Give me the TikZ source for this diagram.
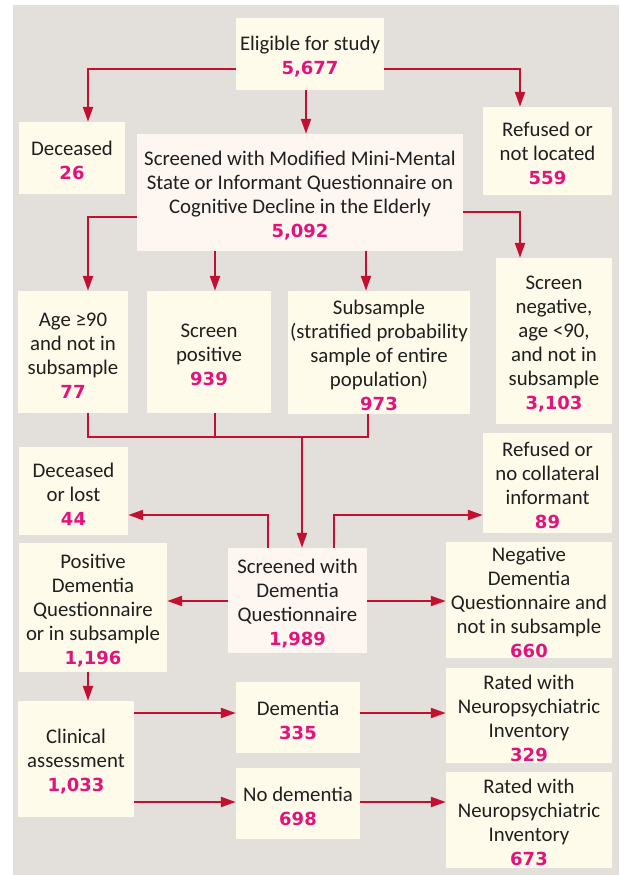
\documentclass[tikz,border=0pt]{standalone}
\usepackage{fontspec}
\setmainfont{Carlito}
\newfontfamily\numfont{DejaVu Sans}
\usetikzlibrary{arrows.meta}
\definecolor{linecol}{RGB}{193,16,48}
\definecolor{numcol}{RGB}{225,20,125}
\definecolor{cream}{RGB}{254,251,234}
\definecolor{pinkish}{RGB}{253,246,241}
\definecolor{bggray}{RGB}{227,223,218}
\newcommand\nm[1]{{\numfont\bfseries\fontsize{18}{24}\selectfont\color{numcol}#1}}
\newcommand\tp{\rule{0pt}{20pt}}
\tikzset{
  box/.style={fill=cream, draw=none, align=center, inner sep=0pt,
    font=\fontsize{20.8}{24}\selectfont, text=black!88},
  pbox/.style={box, fill=pinkish},
  arr/.style={draw=linecol, line width=2.2pt, -{Triangle[length=15pt,width=10pt]}},
  ln/.style={draw=linecol, line width=2.2pt}
}
\begin{document}
\begin{tikzpicture}[x=1pt,y=-1pt]
\useasboundingbox (0,0) rectangle (619,875);
\fill[bggray] (13,5) rectangle (619,875);

\node[box, minimum width=148, minimum height=72] (elig) at (310,54) {\tp Eligible for study\\\nm{5,677}};
\node[box, minimum width=106, minimum height=72] (dec1) at (72,158) {\tp Deceased\\\nm{26}};
\node[box, minimum width=129, minimum height=88] (ref1) at (547.5,151) {\tp Refused or\\not located\\\nm{559}};
\node[pbox, minimum width=326, minimum height=117] (mmms) at (300,192.5) {\tp Screened with Modified Mini-Mental\\State or Informant Questionnaire on\\Cognitive Decline in the Elderly\\\nm{5,092}};
\node[box, minimum width=110, minimum height=122] (age) at (73,352) {\tp Age ≥90\\and not in\\subsample\\\nm{77}};
\node[box, minimum width=124, minimum height=122] (spos) at (209,352) {\tp Screen\\positive\\\nm{939}};
\node[box, minimum width=182, minimum height=123] (subs) at (379,352.5) {\tp Subsample\\(stratified probability\\sample of entire\\population)\\\nm{973}};
\node[box, minimum width=116, minimum height=166] (sneg) at (554,341) {\tp Screen\\negative,\\age <90,\\and not in\\subsample\\\nm{3,103}};
\node[box, minimum width=109, minimum height=88] (dec2) at (73.5,491) {\tp Deceased\\or lost\\\nm{44}};
\node[box, minimum width=129, minimum height=100] (ref2) at (547.5,483) {\tp Refused or\\no collateral\\informant\\\nm{89}};
\node[pbox, minimum width=139, minimum height=105] (sdq) at (297.5,600.5) {\tp Screened with\\Dementia\\Questionnaire\\\nm{1,989}};
\node[box, minimum width=148, minimum height=129] (pdq) at (93,607.5) {\tp Positive\\Dementia\\Questionnaire\\or in subsample\\\nm{1,196}};
\node[box, minimum width=166, minimum height=116] (ndq) at (529,600) {\tp Negative\\Dementia\\Questionnaire and\\not in subsample\\\nm{660}};
\node[box, minimum width=116, minimum height=116] (clin) at (76,759) {\tp Clinical\\assessment\\\nm{1,033}};
\node[box, minimum width=124, minimum height=71] (dem) at (298,717.5) {\tp Dementia\\\nm{335}};
\node[box, minimum width=124, minimum height=71] (nodem) at (298,803.5) {\tp No dementia\\\nm{698}};
\node[box, minimum width=166, minimum height=95] (r329) at (529,715.5) {\tp Rated with\\Neuropsychiatric\\Inventory\\\nm{329}};
\node[box, minimum width=166, minimum height=96] (r673) at (529,820) {\tp Rated with\\Neuropsychiatric\\Inventory\\\nm{673}};

% helper coordinates
\coordinate (c1) at (88,69);
\coordinate (c2) at (520,69);
\coordinate (c3) at (306,0);
\coordinate (c4) at (88,217);
\coordinate (c5) at (520,212);
\coordinate (c6) at (215,0);
\coordinate (c7) at (366,0);
\coordinate (j1) at (88,437);
\coordinate (j2) at (368,437);
\coordinate (j3) at (302,437);
\coordinate (c8) at (268,515);
\coordinate (c9) at (334,515);
\coordinate (y1) at (0,601);
\coordinate (y2) at (0,713);
\coordinate (y3) at (0,802);

\draw[arr] (elig.west |- c1) -| (dec1.north -| c1);
\draw[arr] (elig.east |- c2) -| (ref1.north -| c2);
\draw[arr] (elig.south -| c3) -- (mmms.north -| c3);
\draw[arr] (mmms.west |- c4) -| (age.north -| c4);
\draw[arr] (mmms.south -| c6) -- (spos.north -| c6);
\draw[arr] (mmms.south -| c7) -- (subs.north -| c7);
\draw[arr] (mmms.east |- c5) -| (sneg.north -| c5);

\draw[ln] (age.south -| j1) -- (j1) -- (j2) -- (subs.south -| j2);
\draw[ln] (spos.south -| c6) -- (c6 |- j1);
\draw[arr] (j3) -- (sdq.north -| j3);

\draw[arr] (sdq.north -| c8) -- (c8) -- (dec2.east |- c8);
\draw[arr] (sdq.north -| c9) -- (c9) -- (ref2.west |- c9);
\draw[arr] (sdq.west |- y1) -- (pdq.east |- y1);
\draw[arr] (sdq.east |- y1) -- (ndq.west |- y1);
\draw[arr] (pdq.south -| c1) -- (clin.north -| c1);
\draw[arr] (clin.east |- y2) -- (dem.west |- y2);
\draw[arr] (clin.east |- y3) -- (nodem.west |- y3);
\draw[arr] (dem.east |- y2) -- (r329.west |- y2);
\draw[arr] (nodem.east |- y3) -- (r673.west |- y3);
\end{tikzpicture}
\end{document}
